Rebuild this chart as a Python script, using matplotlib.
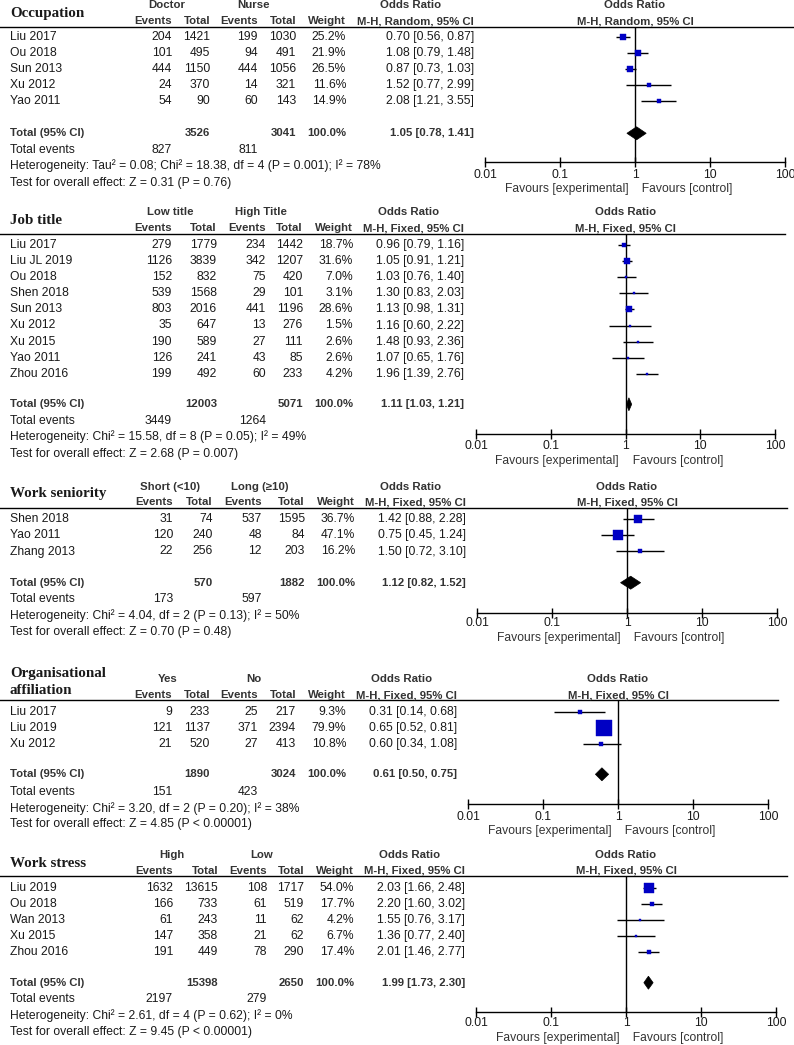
import matplotlib
matplotlib.use("Agg")
import matplotlib.pyplot as plt
from matplotlib.patches import Polygon

# ---------------- DATA ----------------
# Panel 1: Occupation
occ_studies = ["Liu 2017", "Ou 2018", "Sun 2013", "Xu 2012", "Yao 2011"]
occ_ev1 = [204, 101, 444, 24, 54]
occ_tot1 = [1421, 495, 1150, 370, 90]
occ_ev2 = [199, 94, 444, 14, 60]
occ_tot2 = [1030, 491, 1056, 321, 143]
occ_weight = [25.2, 21.9, 26.5, 11.6, 14.9]
occ_or = [0.70, 1.08, 0.87, 1.52, 2.08]
occ_lo = [0.56, 0.79, 0.73, 0.77, 1.21]
occ_hi = [0.87, 1.48, 1.03, 2.99, 3.55]
occ_totals = [3526, 3041]
occ_events = [827, 811]
occ_pooled = [1.05, 0.78, 1.41]
occ_groups = ["Doctor", "Nurse"]
occ_method = "M-H, Random, 95% CI"
occ_het = "Heterogeneity: Tau\u00b2 = 0.08; Chi\u00b2 = 18.38, df = 4 (P = 0.001); I\u00b2 = 78%"
occ_test = "Test for overall effect: Z = 0.31 (P = 0.76)"

# Panel 2: Job title
job_studies = ["Liu 2017", "Liu JL 2019", "Ou 2018", "Shen 2018", "Sun 2013",
               "Xu 2012", "Xu 2015", "Yao 2011", "Zhou 2016"]
job_ev1 = [279, 1126, 152, 539, 803, 35, 190, 126, 199]
job_tot1 = [1779, 3839, 832, 1568, 2016, 647, 589, 241, 492]
job_ev2 = [234, 342, 75, 29, 441, 13, 27, 43, 60]
job_tot2 = [1442, 1207, 420, 101, 1196, 276, 111, 85, 233]
job_weight = [18.7, 31.6, 7.0, 3.1, 28.6, 1.5, 2.6, 2.6, 4.2]
job_or = [0.96, 1.05, 1.03, 1.30, 1.13, 1.16, 1.48, 1.07, 1.96]
job_lo = [0.79, 0.91, 0.76, 0.83, 0.98, 0.60, 0.93, 0.65, 1.39]
job_hi = [1.16, 1.21, 1.40, 2.03, 1.31, 2.22, 2.36, 1.76, 2.76]
job_totals = [12003, 5071]
job_events = [3449, 1264]
job_pooled = [1.11, 1.03, 1.21]
job_groups = ["Low title", "High Title"]
job_method = "M-H, Fixed, 95% CI"
job_het = "Heterogeneity: Chi\u00b2 = 15.58, df = 8 (P = 0.05); I\u00b2 = 49%"
job_test = "Test for overall effect: Z = 2.68 (P = 0.007)"

# Panel 3: Work seniority
sen_studies = ["Shen 2018", "Yao 2011", "Zhang 2013"]
sen_ev1 = [31, 120, 22]
sen_tot1 = [74, 240, 256]
sen_ev2 = [537, 48, 12]
sen_tot2 = [1595, 84, 203]
sen_weight = [36.7, 47.1, 16.2]
sen_or = [1.42, 0.75, 1.50]
sen_lo = [0.88, 0.45, 0.72]
sen_hi = [2.28, 1.24, 3.10]
sen_totals = [570, 1882]
sen_events = [173, 597]
sen_pooled = [1.12, 0.82, 1.52]
sen_groups = ["Short (<10)", "Long (\u226510)"]
sen_method = "M-H, Fixed, 95% CI"
sen_het = "Heterogeneity: Chi\u00b2 = 4.04, df = 2 (P = 0.13); I\u00b2 = 50%"
sen_test = "Test for overall effect: Z = 0.70 (P = 0.48)"

# Panel 4: Organisational affiliation
org_studies = ["Liu 2017", "Liu 2019", "Xu 2012"]
org_ev1 = [9, 121, 21]
org_tot1 = [233, 1137, 520]
org_ev2 = [25, 371, 27]
org_tot2 = [217, 2394, 413]
org_weight = [9.3, 79.9, 10.8]
org_or = [0.31, 0.65, 0.60]
org_lo = [0.14, 0.52, 0.34]
org_hi = [0.68, 0.81, 1.08]
org_totals = [1890, 3024]
org_events = [151, 423]
org_pooled = [0.61, 0.50, 0.75]
org_groups = ["Yes", "No"]
org_method = "M-H, Fixed, 95% CI"
org_het = "Heterogeneity: Chi\u00b2 = 3.20, df = 2 (P = 0.20); I\u00b2 = 38%"
org_test = "Test for overall effect: Z = 4.85 (P < 0.00001)"

# Panel 5: Work stress
str_studies = ["Liu 2019", "Ou 2018", "Wan 2013", "Xu 2015", "Zhou 2016"]
str_ev1 = [1632, 166, 61, 147, 191]
str_tot1 = [13615, 733, 243, 358, 449]
str_ev2 = [108, 61, 11, 21, 78]
str_tot2 = [1717, 519, 62, 62, 290]
str_weight = [54.0, 17.7, 4.2, 6.7, 17.4]
str_or = [2.03, 2.20, 1.55, 1.36, 2.01]
str_lo = [1.66, 1.60, 0.76, 0.77, 1.46]
str_hi = [2.48, 3.02, 3.17, 2.40, 2.77]
str_totals = [15398, 2650]
str_events = [2197, 279]
str_pooled = [1.99, 1.73, 2.30]
str_groups = ["High", "Low"]
str_method = "M-H, Fixed, 95% CI"
str_het = "Heterogeneity: Chi\u00b2 = 2.61, df = 4 (P = 0.62); I\u00b2 = 0%"
str_test = "Test for overall effect: Z = 9.45 (P < 0.00001)"

titles = ["Occupation", "Job title", "Work seniority", "Organisational\naffiliation", "Work stress"]
tick_values = [0.01, 0.1, 1, 10, 100]
tick_labels = ["0.01", "0.1", "1", "10", "100"]

panels = [
    dict(studies=occ_studies, ev1=occ_ev1, tot1=occ_tot1, ev2=occ_ev2, tot2=occ_tot2, w=occ_weight,
         est=occ_or, lo=occ_lo, hi=occ_hi, totals=occ_totals, events=occ_events, pooled=occ_pooled,
         groups=occ_groups, method=occ_method, het=occ_het, test=occ_test),
    dict(studies=job_studies, ev1=job_ev1, tot1=job_tot1, ev2=job_ev2, tot2=job_tot2, w=job_weight,
         est=job_or, lo=job_lo, hi=job_hi, totals=job_totals, events=job_events, pooled=job_pooled,
         groups=job_groups, method=job_method, het=job_het, test=job_test),
    dict(studies=sen_studies, ev1=sen_ev1, tot1=sen_tot1, ev2=sen_ev2, tot2=sen_tot2, w=sen_weight,
         est=sen_or, lo=sen_lo, hi=sen_hi, totals=sen_totals, events=sen_events, pooled=sen_pooled,
         groups=sen_groups, method=sen_method, het=sen_het, test=sen_test),
    dict(studies=org_studies, ev1=org_ev1, tot1=org_tot1, ev2=org_ev2, tot2=org_tot2, w=org_weight,
         est=org_or, lo=org_lo, hi=org_hi, totals=org_totals, events=org_events, pooled=org_pooled,
         groups=org_groups, method=org_method, het=org_het, test=org_test),
    dict(studies=str_studies, ev1=str_ev1, tot1=str_tot1, ev2=str_ev2, tot2=str_tot2, w=str_weight,
         est=str_or, lo=str_lo, hi=str_hi, totals=str_totals, events=str_events, pooled=str_pooled,
         groups=str_groups, method=str_method, het=str_het, test=str_test),
]

# ---------------- LAYOUT (pixels) ----------------
layouts = [
    dict(title_y=[13], grp_y=5, hdr_y=21, line_y=27, row0=36.7, total_y=133.3, events_y=150,
         het_y=165.7, test_y=182.7, axis_y=162, tick_y=175, fav_y=189,
         cols=[172, 210, 258, 296, 346, 474], grp_x=[167, 253], orh_right=441,
         x001=485, x100=785, line_end=794),
    dict(title_y=[221], grp_y=212.3, hdr_y=228.3, line_y=234.3, row0=245, total_y=404.3, events_y=421,
         het_y=436.7, test_y=454, axis_y=434, tick_y=445.7, fav_y=460.7,
         cols=[172, 217, 266, 303, 353, 464], grp_x=[170.5, 260.5], orh_right=439,
         x001=476, x100=775, line_end=785),
    dict(title_y=[493.3], grp_y=486.7, hdr_y=502.3, line_y=508.3, row0=519.3, total_y=582.7, events_y=599.3,
         het_y=615.7, test_y=632.3, axis_y=612.7, tick_y=623.3, fav_y=637.7,
         cols=[173, 213, 262, 305, 355, 466], grp_x=[170, 259.5], orh_right=441,
         x001=477, x100=777, line_end=787),
    dict(title_y=[673.3, 691], grp_y=679, hdr_y=695, line_y=700, row0=711.7, total_y=774.3, events_y=791.7,
         het_y=808.3, test_y=824.3, axis_y=804.3, tick_y=816.7, fav_y=830.7,
         cols=[172, 210, 258, 296, 346, 457], grp_x=[167.5, 253.8], orh_right=432,
         x001=468, x100=768, line_end=778),
    dict(title_y=[863.3], grp_y=855, hdr_y=870.7, line_y=876, row0=887.7, total_y=982.7, events_y=999.3,
         het_y=1015.7, test_y=1032.3, axis_y=1012.3, tick_y=1022.7, fav_y=1038.3,
         cols=[173, 218, 267, 304, 354, 465], grp_x=[171.8, 261.3], orh_right=440,
         x001=476, x100=776, line_end=787),
]
ROW_DY = 16.1
W, H = 794, 1045

BODY = dict(family=["Liberation Sans", "DejaVu Sans"], fontsize=8.75, color="#1a1a1a")
BOLD = dict(family=["Liberation Sans", "DejaVu Sans"], fontsize=8.2, color="#333333", fontweight="bold")
TITLE = dict(family=["Liberation Serif", "DejaVu Serif"], fontsize=10.8, color="#1a1a1a", fontweight="bold")
BLUE = "#0000C4"

fig = plt.figure(figsize=(W / 100, H / 100), dpi=100)
bg = fig.add_axes([0, 0, 1, 1])
bg.set_xlim(0, W)
bg.set_ylim(H, 0)
bg.axis("off")


def t(x, y, s, style, ha="left"):
    bg.text(x, y, s, ha=ha, va="center", **style)


for k, (p, L) in enumerate(zip(panels, layouts)):
    c = L["cols"]
    n = len(p["studies"])
    # title
    for line, ty in zip(titles[k].split("\n"), L["title_y"]):
        t(10, ty, line, TITLE)
    # group headers
    t(L["grp_x"][0], L["grp_y"], p["groups"][0], BOLD, ha="center")
    t(L["grp_x"][1], L["grp_y"], p["groups"][1], BOLD, ha="center")
    t(L["orh_right"], L["grp_y"], "Odds Ratio", BOLD, ha="right")
    # sub headers
    for x, s in zip(c, ["Events", "Total", "Events", "Total", "Weight", p["method"]]):
        t(x, L["hdr_y"], s, BOLD, ha="right")
    # forest header
    xc = (L["x001"] + L["x100"]) / 2
    t(xc, L["grp_y"], "Odds Ratio", BOLD, ha="center")
    t(xc, L["hdr_y"], p["method"], BOLD, ha="center")
    # header rule
    bg.plot([0, L["line_end"]], [L["line_y"], L["line_y"]], color="black", lw=1.0)

    ys = [L["row0"] + i * ROW_DY for i in range(n)]
    for i in range(n):
        y = ys[i]
        t(10, y, p["studies"][i], BODY)
        t(c[0], y, str(p["ev1"][i]), BODY, ha="right")
        t(c[1], y, str(p["tot1"][i]), BODY, ha="right")
        t(c[2], y, str(p["ev2"][i]), BODY, ha="right")
        t(c[3], y, str(p["tot2"][i]), BODY, ha="right")
        t(c[4], y, f"{p['w'][i]:.1f}%", BODY, ha="right")
        t(c[5], y, f"{p['est'][i]:.2f} [{p['lo'][i]:.2f}, {p['hi'][i]:.2f}]", BODY, ha="right")
    # total rows
    ty = L["total_y"]
    t(10, ty, "Total (95% CI)", BOLD)
    t(c[1], ty, str(p["totals"][0]), BOLD, ha="right")
    t(c[3], ty, str(p["totals"][1]), BOLD, ha="right")
    t(c[4], ty, "100.0%", BOLD, ha="right")
    pe, pl, ph = p["pooled"]
    t(c[5], ty, f"{pe:.2f} [{pl:.2f}, {ph:.2f}]", BOLD, ha="right")
    t(10, L["events_y"], "Total events", BODY)
    t(c[0], L["events_y"], str(p["events"][0]), BODY, ha="right")
    t(c[2], L["events_y"], str(p["events"][1]), BODY, ha="right")
    t(10, L["het_y"], p["het"], BODY)
    t(10, L["test_y"], p["test"], BODY)

    # forest axes
    ax = fig.add_axes([L["x001"] / W, 1 - L["axis_y"] / H,
                       (L["x100"] - L["x001"]) / W, (L["axis_y"] - L["line_y"]) / H])
    ax.set_xscale("log")
    ax.set_xlim(0.01, 100)
    ax.set_ylim(L["axis_y"], L["line_y"])
    ax.patch.set_alpha(0)
    for s in ["top", "left", "right"]:
        ax.spines[s].set_visible(False)
    ax.spines["bottom"].set_linewidth(1.0)
    ax.set_yticks([])
    ax.set_xticks(tick_values)
    ax.set_xticklabels([""] * len(tick_values))
    ax.minorticks_off()
    ax.tick_params(axis="x", direction="inout", length=7, width=1.0, color="black")
    ax.axvline(1, color="black", lw=1.0, zorder=1)
    for i in range(n):
        ax.plot([p["lo"][i], p["hi"][i]], [ys[i], ys[i]], color="black", lw=1.0, zorder=2,
                solid_capstyle="butt")
        side = max(2.0, 1.5 + 0.17 * p["w"][i])
        ax.plot(p["est"][i], ys[i], marker="s", ms=side * 0.72, color=BLUE, mec=BLUE, mew=0.3,
                zorder=3, ls="none")
    hh = 6.5
    ax.add_patch(Polygon([(pl, ty), (pe, ty - hh), (ph, ty), (pe, ty + hh)], closed=True,
                         facecolor="black", edgecolor="black", lw=0.5, zorder=3, clip_on=False))
    for v, lab in zip(tick_values, tick_labels):
        ax.text(v, L["tick_y"], lab, ha="center", va="center", clip_on=False, **BODY)
    ax.text(1, L["fav_y"], "Favours [experimental]  ", ha="right", va="center", clip_on=False,
            **dict(BODY, color="#333333"))
    ax.text(1, L["fav_y"], "  Favours [control]", ha="left", va="center", clip_on=False,
            **dict(BODY, color="#333333"))

fig.savefig("out.png", dpi=100, facecolor="white")
